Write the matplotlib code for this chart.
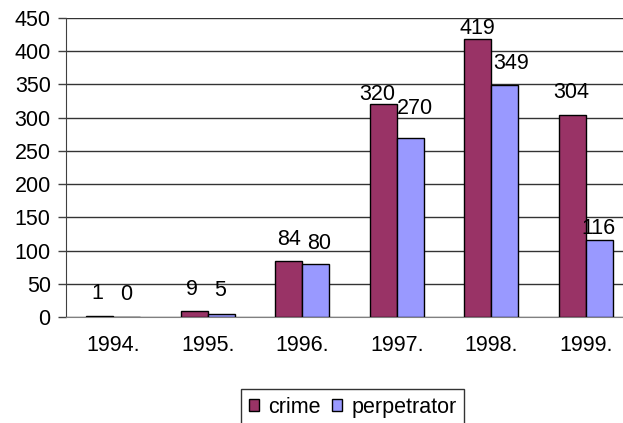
import numpy as np
import matplotlib.pyplot as plt

plt.rcParams['font.family'] = ['Liberation Sans', 'DejaVu Sans']

years = ['1994.', '1995.', '1996.', '1997.', '1998.', '1999.']
crime = [1, 9, 84, 320, 419, 304]
perpetrator = [0, 5, 80, 270, 349, 116]

# label nudges in pixels (dx, dy) above each bar top
crime_off = [(-2, 23), (-2, 22), (0, 22), (-6, 10), (0, 10), (-1, 23)]
perp_off = [(-1, 23), (-1, 23), (3, 20), (5, 29), (6, 22), (-1, 11)]

FS = 15.5
W, H = 623, 423
fig = plt.figure(figsize=(W / 100, H / 100), dpi=100)
left, right, top, bottom = 66, 633, 18, 317
ax = fig.add_axes([left / W, 1 - bottom / H, (right - left) / W, (bottom - top) / H])

ind = np.arange(len(years))
width = 0.285
b1 = ax.bar(ind - width / 2, crime, width, color='#993366', edgecolor='black', linewidth=1, label='crime', zorder=3)
b2 = ax.bar(ind + width / 2, perpetrator, width, color='#9999FF', edgecolor='black', linewidth=1, label='perpetrator', zorder=3)

for bars, vals, offs in [(b1, crime, crime_off), (b2, perpetrator, perp_off)]:
    for bar, v, (dx, dy) in zip(bars, vals, offs):
        ax.annotate(str(v), (bar.get_x() + bar.get_width() / 2, v),
                    xytext=(dx, dy), textcoords='offset pixels',
                    ha='center', va='center', fontsize=FS)

ax.set_xlim(-0.5, len(years) - 0.5)
ax.set_ylim(0, 450)
ax.set_yticks(np.arange(0, 451, 50))
ax.set_xticks(ind)
ax.set_xticklabels(years)
ax.tick_params(axis='x', length=0, pad=13, labelsize=FS)
ax.tick_params(axis='y', length=6, width=1, color='#404040', pad=5, labelsize=FS)
ax.yaxis.grid(True, color='#333333', linewidth=1, zorder=0)
for s in ['top', 'right']:
    ax.spines[s].set_visible(False)
ax.spines['left'].set_color('#404040')
ax.spines['bottom'].set_color('#808080')

fig.legend(handles=[b1, b2], loc='upper left', bbox_to_anchor=(241 / W, 1 - 389 / H),
           ncol=2, frameon=True, fancybox=False, edgecolor='black', fontsize=FS,
           handlelength=0.47, handleheight=0.47, handletextpad=0.45, columnspacing=0.5,
           borderpad=0.35, borderaxespad=0)

fig.savefig('out.png', dpi=100)
